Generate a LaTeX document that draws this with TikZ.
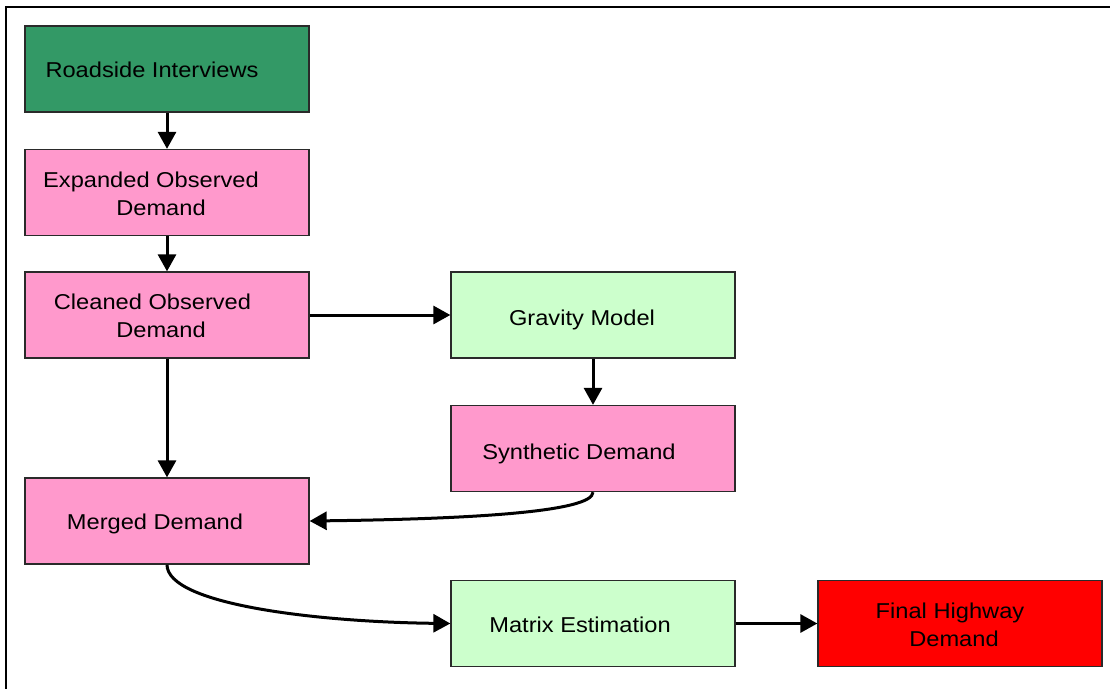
\documentclass[tikz,border=0pt]{standalone}
\usepackage{fontspec}
\setmainfont[FakeStretch=1.1]{Liberation Sans}
\usetikzlibrary{arrows.meta}
\definecolor{rgreen}{HTML}{339966}
\definecolor{rpink}{HTML}{FF99CC}
\definecolor{rlight}{HTML}{CCFFCC}
\definecolor{rred}{HTML}{FF0000}
\definecolor{rborder}{HTML}{2A2A2A}
\newcommand{\boxfont}{\fontsize{21.5pt}{28pt}\selectfont}
\begin{document}
\begin{tikzpicture}[x=1pt,y=-1pt,
  font=\boxfont,
  flowbox/.style={draw=rborder, line width=1.3pt, minimum width=284pt, minimum height=86pt, inner sep=0pt},
  boxtext/.style={align=center, inner sep=0pt},
  flowarrow/.style={line width=3pt, -{Triangle[width=18pt,length=17pt]}}
]
\useasboundingbox (0,0) rectangle (1110,688);
\begin{scope}
\clip (0,0) rectangle (1110,688);
\draw[line width=2pt] (6,7) rectangle (1112,692);
\end{scope}

\node[flowbox, fill=rgreen] (ri) at (167,69) {};
\node[boxtext, xshift=-15pt, yshift=-1pt] (riT) at (ri.center) {Roadside Interviews};
\node[flowbox, fill=rpink] (eod) at (167,192.5) {};
\node[boxtext, xshift=-6pt, yshift=-1pt] (eodT) at (eod.center) {Expanded Observed\hspace*{20pt}\\Demand};
\node[flowbox, fill=rpink] (cod) at (167,315) {};
\node[boxtext, xshift=-6pt, yshift=-1pt] (codT) at (cod.center) {Cleaned Observed\hspace*{17pt}\\Demand};
\node[flowbox, fill=rlight] (gm) at (593,315) {};
\node[boxtext, xshift=-11pt, yshift=-5pt] (gmT) at (gm.center) {Gravity Model};
\node[flowbox, fill=rpink] (sd) at (593,448.5) {};
\node[boxtext, xshift=-14pt, yshift=-5pt] (sdT) at (sd.center) {Synthetic Demand};
\node[flowbox, fill=rpink] (md) at (167,521) {};
\node[boxtext, xshift=-12pt, yshift=-3pt] (mdT) at (md.center) {Merged Demand};
\node[flowbox, fill=rlight] (me) at (593,623.5) {};
\node[boxtext, xshift=-13pt, yshift=-1pt] (meT) at (me.center) {Matrix Estimation};
\node[flowbox, fill=rred] (fhd) at (960,623.5) {};
\node[boxtext, xshift=-6pt, yshift=-1pt] (fhdT) at (fhd.center) {Final Highway\hspace*{8pt}\\Demand};

\draw[flowarrow] (ri.south) -- (eod.north);
\draw[flowarrow] (eod.south) -- (cod.north);
\draw[flowarrow] (cod.south) -- (md.north);
\draw[flowarrow] (cod.east) -- (gm.west);
\draw[flowarrow] (gm.south) -- (sd.north);
\draw[flowarrow] (sd.south) .. controls (593,512) and (470,519) .. (md.east);
\draw[flowarrow] (md.south) .. controls (167,605) and (320,622) .. (me.west);
\draw[flowarrow] (me.east) -- (fhd.west);
\end{tikzpicture}
\end{document}
